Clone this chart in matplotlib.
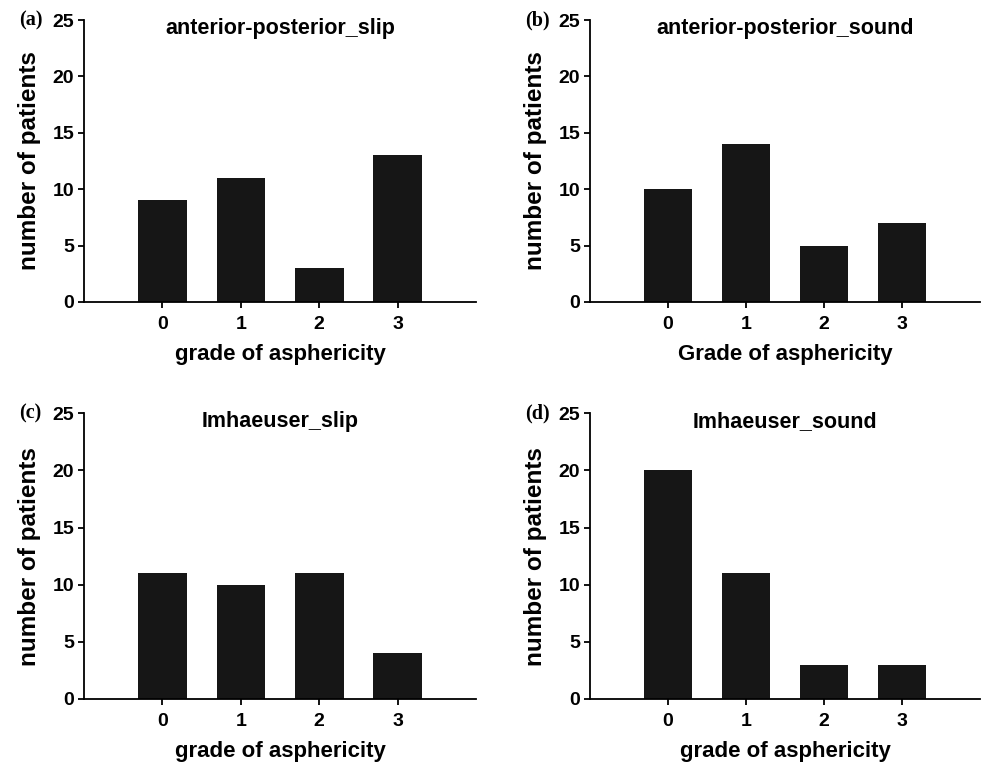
import matplotlib
matplotlib.use("Agg")
import matplotlib.pyplot as plt

grades = [0, 1, 2, 3]
ap_slip = [9, 11, 3, 13]
ap_sound = [10, 14, 5, 7]
imh_slip = [11, 10, 11, 4]
imh_sound = [20, 11, 3, 3]

titles = ["anterior-posterior_slip", "anterior-posterior_sound", "Imhaeuser_slip", "Imhaeuser_sound"]
xlabels = ["grade of asphericity", "Grade of asphericity", "grade of asphericity", "grade of asphericity"]
panel_tags = ["(a)", "(b)", "(c)", "(d)"]
series = [ap_slip, ap_sound, imh_slip, imh_sound]

plt.rcParams["font.family"] = ["Liberation Sans", "DejaVu Sans"]
plt.rcParams["font.weight"] = "bold"

fig = plt.figure(figsize=(9.85, 7.62), dpi=100)
positions = [
    [0.0853, 0.6037, 0.398, 0.370],
    [0.599, 0.6037, 0.396, 0.370],
    [0.0853, 0.0827, 0.398, 0.375],
    [0.599, 0.0827, 0.396, 0.375],
]

for pos, vals, title, xl, tag in zip(positions, series, titles, xlabels, panel_tags):
    ax = fig.add_axes(pos)
    ax.bar(grades, vals, width=0.62, color="#161616")
    ax.set_xlim(-1, 4)
    ax.set_ylim(0, 25)
    ax.set_xticks(grades)
    ax.set_yticks([0, 5, 10, 15, 20, 25])
    ax.spines["top"].set_visible(False)
    ax.spines["right"].set_visible(False)
    for s in ["left", "bottom"]:
        ax.spines[s].set_linewidth(1.3)
    ax.tick_params(direction="out", length=4, width=1.3, labelsize=14)
    ax.tick_params(axis="y", pad=3)
    ax.tick_params(axis="x", pad=6)
    for lab in ax.get_xticklabels() + ax.get_yticklabels():
        lab.set_fontweight("bold")
    ax.set_xlabel(xl, fontsize=16, fontweight="bold", labelpad=8)
    ax.set_ylabel("number of patients", fontsize=17.5, fontweight="bold", labelpad=8)
    ax.text(0.5, 1.007, title, transform=ax.transAxes, ha="center", va="top",
            fontsize=15.5, fontweight="bold")
    fig.text(pos[0] - 0.066, pos[1] + pos[3], tag, ha="left", va="center",
             fontsize=14.5, fontweight="bold", family="Liberation Serif")

fig.savefig("out.png", dpi=100)
plt.close(fig)
